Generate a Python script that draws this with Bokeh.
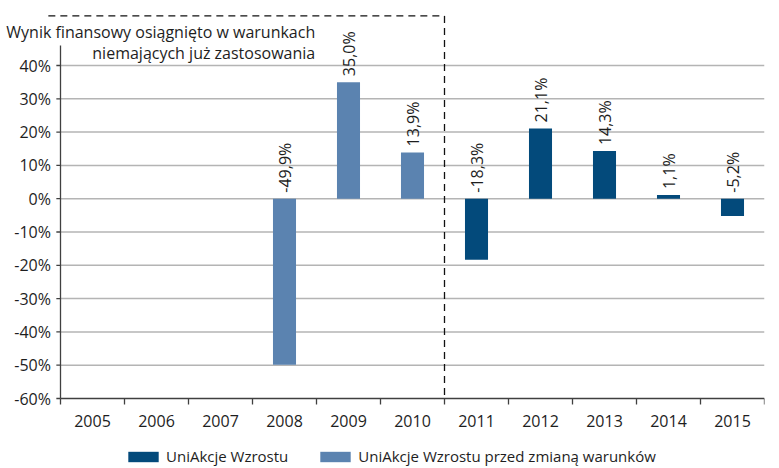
from bokeh.plotting import figure
from bokeh.models import Range1d, Legend, LegendItem, ColumnDataSource
from bokeh.core.properties import value
from bokeh.embed import file_html
from bokeh.resources import INLINE
import math

years = ["2005", "2006", "2007", "2008", "2009", "2010", "2011", "2012", "2013", "2014", "2015"]
before_years = ["2008", "2009", "2010"]
before_values = [-49.9, 35.0, 13.9]
after_years = ["2011", "2012", "2013", "2014", "2015"]
after_values = [-18.3, 21.1, 14.3, 1.1, -5.2]
y_ticks = [-60, -50, -40, -30, -20, -10, 0, 10, 20, 30, 40]
note_lines = ["Wynik finansowy osiągnięto w warunkach", "niemających już zastosowania"]
legend_labels = ["UniAkcje Wzrostu", "UniAkcje Wzrostu przed zmianą warunków"]

DARK = "#034a7b"
LIGHT = "#5b83b0"
TXT = "#1e1e1e"
AX = "#404040"
FONT = "Open Sans"

xpos = {y: i + 0.5 for i, y in enumerate(years)}
y_min, y_max = y_ticks[0], y_ticks[-1]

p = figure(frame_width=764, frame_height=466, min_border_left=0, min_border_right=10,
           min_border_top=0, min_border_bottom=0,
           x_range=Range1d(-0.9375, 11.0), y_range=Range1d(-80.42, 59.52),
           output_backend="svg", toolbar_location=None)
p.outline_line_color = None
p.xgrid.visible = False
p.ygrid.visible = False
p.xaxis.visible = False
p.yaxis.visible = False

n = len(y_ticks)
nc = len(years)
# gridlines
p.segment(x0=[0] * (n - 1), x1=[nc] * (n - 1), y0=y_ticks[1:], y1=y_ticks[1:],
          line_color="#b4b4b4", line_width=1.5)
# y axis line, ticks and labels
p.segment(x0=[0], x1=[0], y0=[y_min], y1=[46], line_color=AX, line_width=1.3)
p.segment(x0=[-0.065] * n, x1=[0] * n, y0=y_ticks, y1=y_ticks, line_color=AX, line_width=1.3)
p.text(x=[-0.15] * n, y=y_ticks, text=[f"{t}%" for t in y_ticks], text_align="right",
       text_baseline="middle", text_font=value(FONT), text_font_size="16px", text_color=TXT)

# x axis line, boundary ticks and year labels
p.segment(x0=[0], x1=[nc], y0=[y_min], y1=[y_min], line_color=AX, line_width=1.5)
p.segment(x0=list(range(nc + 1)), x1=list(range(nc + 1)), y0=[y_min] * (nc + 1),
          y1=[y_min - 1.8] * (nc + 1), line_color=AX, line_width=1.3)
p.text(x=[xpos[y] for y in years], y=[y_min] * nc, text=years, text_align="center",
       text_baseline="middle", y_offset=22, text_font=value(FONT), text_font_size="16px",
       text_color=TXT)

src_b = ColumnDataSource(dict(x=[xpos[y] for y in before_years], top=before_values))
src_a = ColumnDataSource(dict(x=[xpos[y] for y in after_years], top=after_values))
rb = p.vbar(x="x", top="top", bottom=0, width=0.36, source=src_b, fill_color=LIGHT, line_color=None)
ra = p.vbar(x="x", top="top", bottom=0, width=0.36, source=src_a, fill_color=DARK, line_color=None)

all_years = before_years + after_years
all_vals = before_values + after_values
lab = ColumnDataSource(dict(x=[xpos[y] for y in all_years], y=[max(v, 0) for v in all_vals],
                            t=[f"{v:.1f}".replace(".", ",") + "%" for v in all_vals]))
p.text(x="x", y="y", text="t", source=lab, angle=math.pi / 2, text_align="left",
       text_baseline="middle", y_offset=-6, text_font=value(FONT), text_font_size="16px",
       text_color=TXT)

# note text
p.text(x=[3.98, 3.98], y=[50.0, 43.9], text=note_lines, text_align="right", text_baseline="middle",
       text_font=value(FONT), text_font_size="16px", text_color=TXT)

# dashed box
p.segment(x0=[-0.19, 6], x1=[6, 6], y0=[54.9, 54.9], y1=[54.9, y_min], line_color="#111111",
          line_width=1.3, line_dash="7 5")

legend = Legend(items=[LegendItem(label=legend_labels[0], renderers=[ra]),
                       LegendItem(label=legend_labels[1], renderers=[rb])],
                location=(124, 0), orientation="horizontal", glyph_width=38, glyph_height=13,
                label_standoff=4, spacing=28, padding=0, margin=0,
                background_fill_alpha=0, border_line_color=None,
                label_text_font=FONT, label_text_font_size="15px", label_text_color=TXT)
p.add_layout(legend, "center")

open("out.html", "w").write(file_html(p, INLINE))
